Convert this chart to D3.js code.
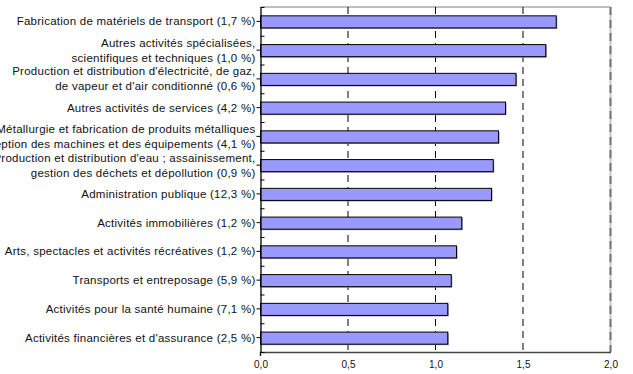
<!DOCTYPE html>
<html>
<head>
<meta charset="utf-8">
<script src="https://cdn.jsdelivr.net/npm/d3@7"></script>
<style>
  body { margin: 0; background: #fff; }
  text { font-family: "Liberation Sans", Arial, sans-serif; fill: #111; }
</style>
</head>
<body>
<svg id="chart" width="633" height="374"></svg>
<script>
// categories, top to bottom (each label = its lines)
var categories = [
    ["Fabrication de matériels de transport (1,7 %)"],
    ["Autres activités spécialisées,", "scientifiques et techniques (1,0 %)"],
    ["Production et distribution d'électricité, de gaz,", "de vapeur et d'air conditionné (0,6 %)"],
    ["Autres activités de services (4,2 %)"],
    ["Métallurgie et fabrication de produits métalliques", "à l'exception des machines et des équipements (4,1 %)"],
    ["Production et distribution d'eau ; assainissement,", "gestion des déchets et dépollution (0,9 %)"],
    ["Administration publique (12,3 %)"],
    ["Activités immobilières (1,2 %)"],
    ["Arts, spectacles et activités récréatives (1,2 %)"],
    ["Transports et entreposage (5,9 %)"],
    ["Activités pour la santé humaine (7,1 %)"],
    ["Activités financières et d'assurance (2,5 %)"]
];
var values = [1.69, 1.63, 1.46, 1.40, 1.36, 1.33, 1.32, 1.15, 1.12, 1.09, 1.07, 1.07];
var xTicks = [0, 0.5, 1, 1.5, 2];

(function chart() {
    var svg = d3.select("#chart"),
        plotLeft = 260.5, plotRight = 610.5, plotTop = 7, plotBottom = 352;

    var keys = d3.range(categories.length);

    var x = d3.scaleLinear().domain([0, 2]).range([plotLeft, plotRight]);
    var y = d3.scaleBand().domain(keys).range([plotTop, plotBottom])
        .paddingInner(0.58).paddingOuter(0.29);
    var yEdge = d3.scaleLinear().domain([0, categories.length]).range([plotTop, plotBottom]);

    // top border
    svg.append("line")
        .attr("x1", plotLeft).attr("x2", plotRight)
        .attr("y1", plotTop).attr("y2", plotTop)
        .attr("stroke", "#a8a8a8").attr("stroke-width", 1.5);

    // right border (grey dashed)
    svg.append("line")
        .attr("x1", plotRight).attr("x2", plotRight)
        .attr("y1", plotTop).attr("y2", plotBottom)
        .attr("stroke", "#c4c4c4").attr("stroke-width", 2);
    svg.append("line")
        .attr("x1", plotRight).attr("x2", plotRight)
        .attr("y1", plotTop).attr("y2", plotBottom)
        .attr("stroke", "#777").attr("stroke-width", 2)
        .attr("stroke-dasharray", "8,5");

    // dashed gridlines
    svg.selectAll(".grid")
        .data(xTicks.filter(function (d) { return d > 0 && d < 2; }))
        .enter().append("line")
        .attr("class", "grid")
        .attr("x1", function (d) { return x(d); })
        .attr("x2", function (d) { return x(d); })
        .attr("y1", plotTop).attr("y2", plotBottom)
        .attr("stroke", "#000")
        .attr("stroke-dasharray", "7,5");

    // bars: shadow then bar
    svg.selectAll(".shadow")
        .data(values)
        .enter().append("rect")
        .attr("class", "shadow")
        .attr("x", x(0) + 1)
        .attr("y", function (d, i) { return y(i) + 1.5; })
        .attr("width", function (d) { return x(d) - x(0); })
        .attr("height", y.bandwidth())
        .attr("fill", "#8c8c8c");

    svg.selectAll(".bar")
        .data(values)
        .enter().append("rect")
        .attr("class", "bar")
        .attr("x", x(0))
        .attr("y", function (d, i) { return y(i) + 0.5; })
        .attr("width", function (d) { return x(d) - x(0); })
        .attr("height", y.bandwidth())
        .attr("fill", "#9999ff")
        .attr("stroke", "#000")
        .attr("stroke-width", 1);

    // x axis
    var xAxis = svg.append("g")
        .attr("transform", "translate(0," + plotBottom + ")")
        .call(d3.axisBottom(x).tickValues(xTicks).tickSize(0).tickPadding(9)
            .tickFormat(function (d) { return d3.format(".1f")(d).replace(".", ","); }));
    xAxis.select(".domain").attr("stroke", "#444").attr("stroke-width", 1.3);
    xAxis.selectAll("text").style("font-size", "10px").attr("fill", "#111");

    // y axis: ticks at labels (outside) and between categories (inside)
    var yAxis = svg.append("g")
        .attr("transform", "translate(" + plotLeft + ",0)")
        .call(d3.axisLeft(y).tickSize(4).tickSizeOuter(0).tickFormat(""));
    yAxis.select(".domain").attr("stroke", "#000").attr("stroke-width", 1.3);

    svg.append("g")
        .attr("transform", "translate(" + plotLeft + ",0)")
        .call(d3.axisRight(yEdge).tickValues(d3.range(categories.length + 1)).tickSize(4).tickFormat(""))
        .select(".domain").remove();

    svg.append("line")
        .attr("x1", plotLeft).attr("x2", plotLeft)
        .attr("y1", plotBottom).attr("y2", plotBottom + 4)
        .attr("stroke", "#000").attr("stroke-width", 1.3);

    // category labels
    var lineH = 15;
    var labels = svg.selectAll(".label")
        .data(categories)
        .enter().append("text")
        .attr("class", "label")
        .attr("text-anchor", "end")
        .style("font-size", "11.5px")
        .style("letter-spacing", "0.25px");

    labels.each(function (lines, i) {
        var cy = y(i) + y.bandwidth() / 2;
        var t = d3.select(this);
        lines.forEach(function (s, k) {
            t.append("tspan")
                .attr("x", plotLeft - 5)
                .attr("y", cy + (k - (lines.length - 1) / 2) * lineH)
                .attr("dy", "0.35em")
                .text(s);
        });
    });
}());
</script>
</body>
</html>
